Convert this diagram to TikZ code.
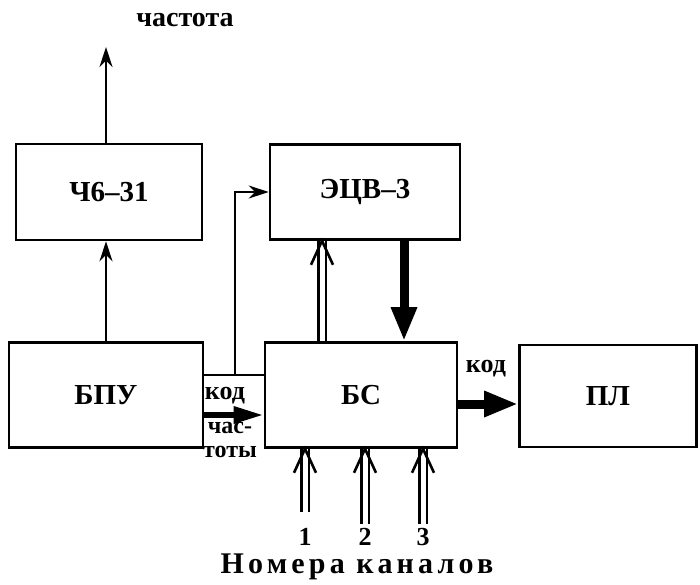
\documentclass[tikz,border=0pt]{standalone}
\usepackage{fontspec}
\setmainfont{Liberation Serif}
\newfontfamily\widefont[LetterSpace=14]{Liberation Serif}
\usetikzlibrary{arrows.meta,positioning}
\tikzset{
  >={Stealth[length=20pt,width=13pt]},
  blk/.style={draw,line width=2.6pt,inner sep=0pt,font=\fontsize{29}{30}\selectfont\bfseries},
  lab/.style={font=\fontsize{26}{22}\selectfont\bfseries,align=center,inner sep=0pt},
  arr/.style={->,line width=2.4pt},
  tarr/.style={-{Triangle[length=34pt,width=24pt]},line width=9pt},
  darr/.style={double,double distance=5pt,line width=2.2pt},
  dhead/.style={line width=2.6pt,line join=miter},
}
% chevron head of a double arrow, pointing up at coordinate #1
\newcommand\uphead[1]{\draw[dhead] ([shift={(-11,24)}]#1) -- (#1) -- ([shift={(11,24)}]#1);}
\begin{document}
\begin{tikzpicture}[x=1pt,y=-1pt]
\useasboundingbox (0,0) rectangle (700,584);
% blocks
\node[blk,minimum width=186pt,minimum height=96pt] (ch) at (109,192) {Ч6–31};
\node[blk,minimum width=190pt,minimum height=95pt] (ecv) at (365,192) {ЭЦВ–3};
\node[blk,minimum width=194pt,minimum height=105pt] (bpu) at (106,395) {БПУ};
\node[blk,minimum width=192pt,minimum height=105pt] (bs) at (361,395) {БС};
\node[blk,minimum width=177pt,minimum height=102pt] (pl) at (608,396) {ПЛ};
% outputs and labels
\coordinate (fq) at (106,47);
\node[lab,font=\fontsize{28}{30}\selectfont\bfseries] (fqt) at (185,20) {частота};
\draw[arr] (bpu.north) -- (bpu.north |- ch.south);
\draw[arr] (ch.north -| fq) -- (fq);
\coordinate (j) at (235,375);
\coordinate (kod) at (233,415);
\draw[line width=2.4pt] (bpu.east |- j) -- (bs.west |- j);
\draw[arr] (j) |- (ecv.west);
\draw[-{Triangle[length=30pt,width=16pt]},line width=6pt] (bpu.east |- kod) -- (bs.west |- kod);
\node[lab] (kod1) at (225,396) {код};
\node[lab,anchor=north,font=\fontsize{24}{24}\selectfont\bfseries] (kod2) at (230,422) {час-\\тоты};
\coordinate (up) at ([xshift=-39pt]bs.north |- ecv.south);
\draw[darr] ([xshift=-39pt]bs.north) -- (up);
\uphead{up}
\draw[tarr] ([xshift=39pt]ecv.south) -- ([xshift=39pt]ecv.south |- bs.north);
\draw[tarr] ([yshift=-9pt]bs.east) -- ([yshift=-9pt]bs.east -| pl.west);
\node[lab] (kod3) at (486,369) {код};
% channel numbers
\coordinate (nums) at (0,537);
\foreach \i/\dx/\len in {1/-56/63,2/4/75,3/62/75}{
  \coordinate (in\i) at ([xshift=\dx pt,yshift=-\len pt]bs.south);
  \coordinate (h\i) at (in\i |- bs.south);
  \draw[darr] (in\i) -- (h\i);
  \uphead{h\i}
  \node[lab] (n\i) at (in\i |- nums) {\i};
}
\node[lab,font=\fontsize{30}{30}\selectfont\bfseries\widefont] (kan) at (357,567) {Номера каналов};
\end{tikzpicture}
\end{document}
